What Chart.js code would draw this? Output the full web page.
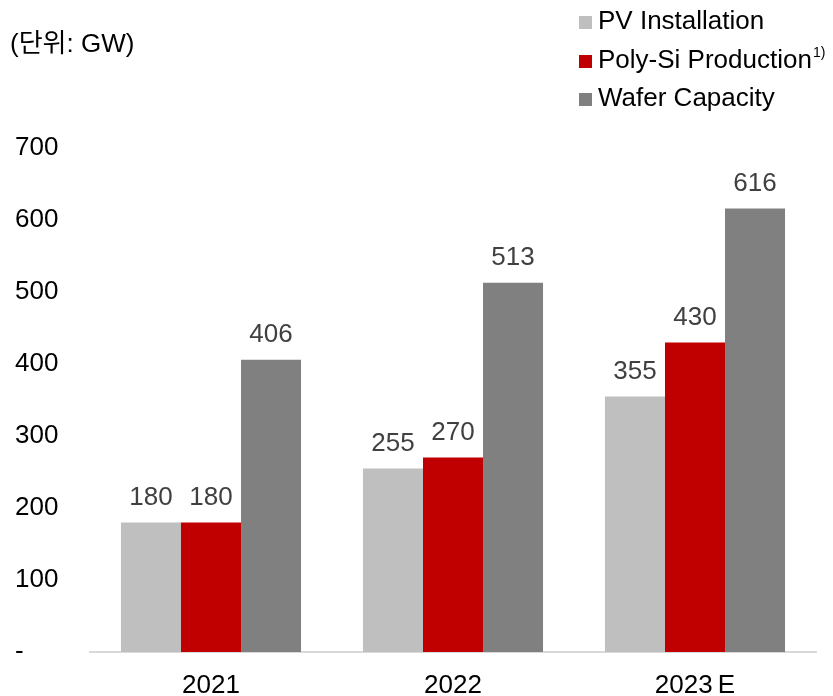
<!DOCTYPE html>
<html>
<head>
<meta charset="utf-8">
<script src="https://cdn.jsdelivr.net/npm/chart.js@4"></script>
<style>
  html, body { margin: 0; padding: 0; background: #fff; }
  #wrap { width: 833px; height: 696px; position: relative; }
</style>
</head>
<body>
<div id="wrap"><canvas id="myChart" width="833" height="696"></canvas></div>
<script>
const categories = ["2021", "2022", "2023\u2009E"];
const pvInstallation = [180, 255, 355];
const polySiProduction = [180, 270, 430];
const waferCapacity = [406, 513, 616];
const seriesNames = ["PV Installation", "Poly-Si Production", "Wafer Capacity"];
const colors = ["#bfbfbf", "#c00000", "#808080"];

const FONT = "Arial, 'Liberation Sans', sans-serif";

// value labels above bars + unit text + legend at top right
const extras = {
  id: "extras",
  afterDatasetsDraw(chart) {
    const c = chart.ctx;
    c.save();
    c.fillStyle = "#404040";
    c.font = "26px " + FONT;
    c.textAlign = "center";
    c.textBaseline = "middle";
    chart.data.datasets.forEach((ds, i) => {
      chart.getDatasetMeta(i).data.forEach((bar, j) => {
        c.fillText(ds.data[j], bar.x, bar.y - 25);
      });
    });

    c.fillStyle = "#000";
    c.textAlign = "left";
    c.font = "26px " + FONT + ", 'Noto Sans CJK KR'";
    c.fillText("(단위: GW)", 10, 45);

    const rows = [22, 61, 99];
    seriesNames.forEach((name, i) => {
      c.fillStyle = colors[i];
      c.fillRect(579, rows[i] - 6, 13, 13);
      c.fillStyle = "#000";
      c.font = "26px " + FONT;
      c.fillText(name, 598, rows[i]);
      if (i === 1) {
        const w = c.measureText(name).width;
        c.font = "14px " + FONT;
        c.fillText("1)", 598 + w + 1, rows[i] - 8);
      }
    });
    c.restore();
  }
};

new Chart(document.getElementById("myChart").getContext("2d"), {
  type: "bar",
  data: {
    labels: categories,
    datasets: [
      { label: seriesNames[0], data: pvInstallation, backgroundColor: colors[0] },
      { label: seriesNames[1], data: polySiProduction, backgroundColor: colors[1] },
      { label: seriesNames[2], data: waferCapacity, backgroundColor: colors[2] },
    ],
  },
  options: {
    responsive: false,
    animation: false,
    layout: { padding: { top: 148, left: 15, right: 17, bottom: 0 } },
    datasets: { bar: { barPercentage: 1, categoryPercentage: 0.744 } },
    plugins: { legend: { display: false }, tooltip: { enabled: false } },
    scales: {
      x: {
        grid: { display: false, drawTicks: false },
        border: { color: "#d9d9d9", width: 2 },
        ticks: { color: "#000", font: { size: 26, family: FONT }, padding: 18 },
        afterFit(s) { s.height = 44; },
      },
      y: {
        min: 0,
        max: 700,
        grid: { display: false, drawTicks: false },
        border: { display: false },
        ticks: {
          stepSize: 100,
          color: "#000",
          crossAlign: "far",
          font: { size: 26, family: FONT },
          callback: (v) => (v === 0 ? "-" : v),
        },
        afterFit(s) { s.width = 75; },
      },
    },
  },
  plugins: [extras],
});
</script>
</body>
</html>
